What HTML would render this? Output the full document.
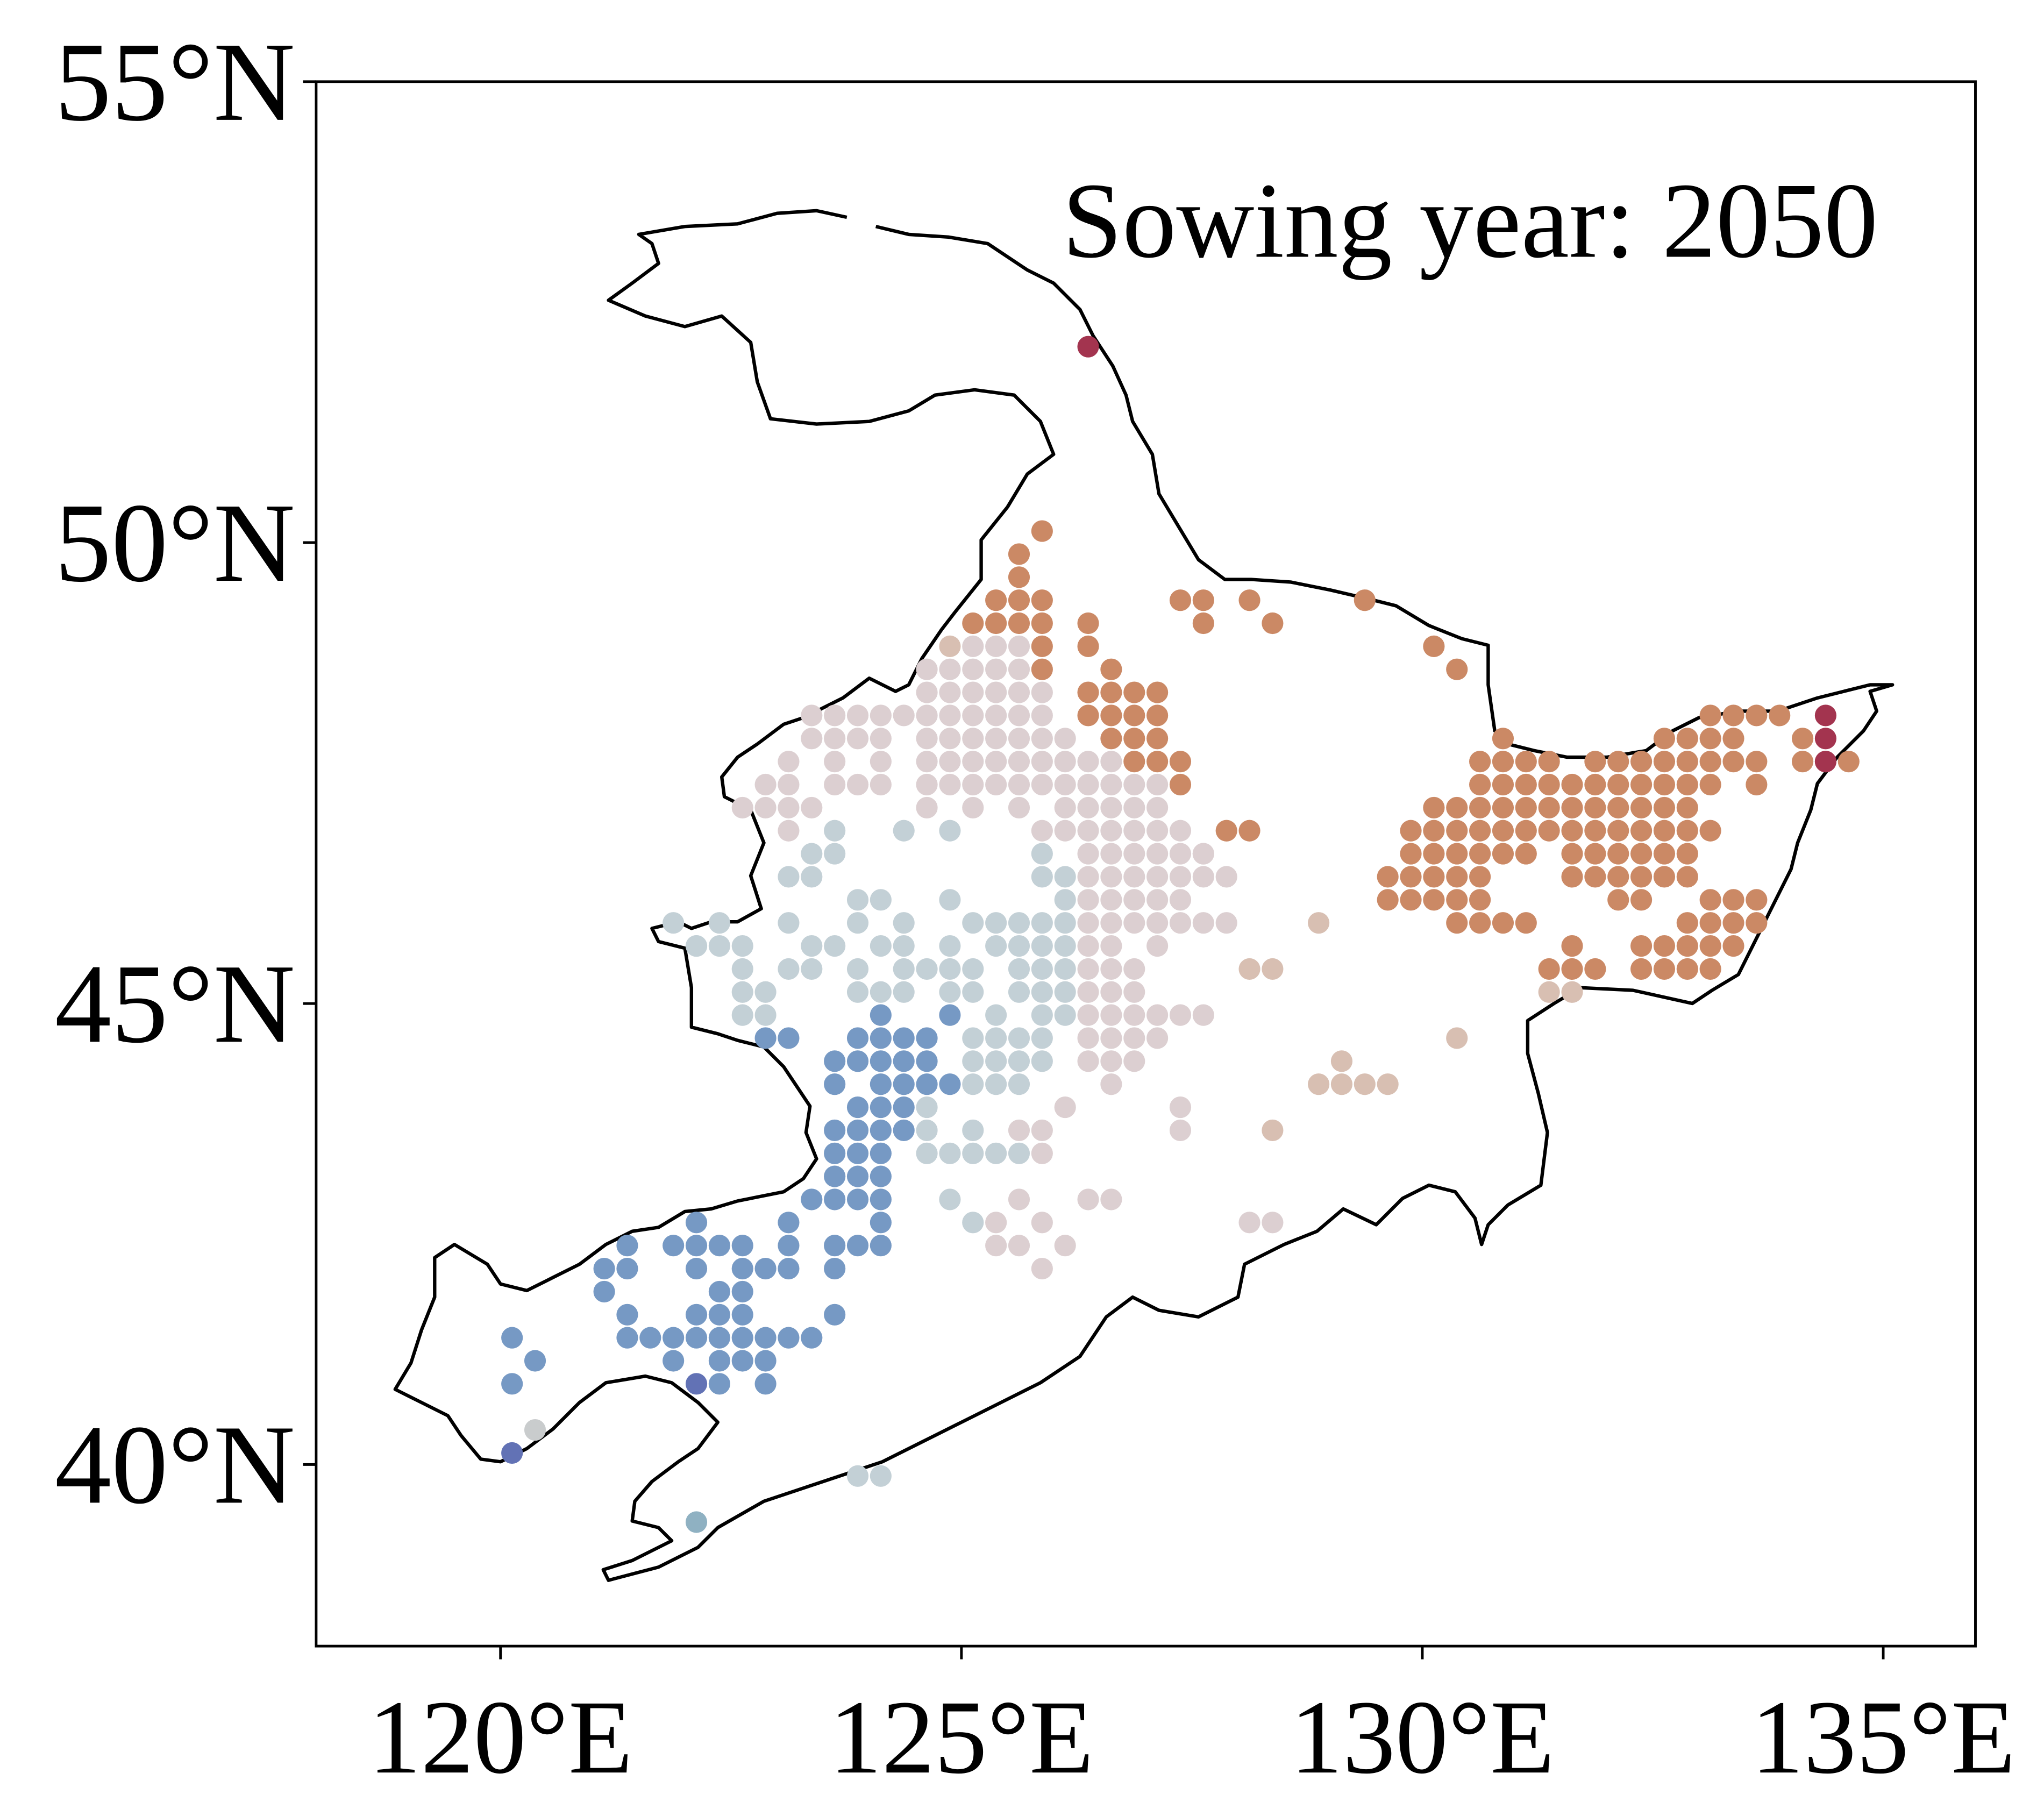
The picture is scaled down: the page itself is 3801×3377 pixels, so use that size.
<!DOCTYPE html>
<html><head><meta charset="utf-8">
<style>
html,body{margin:0;padding:0;background:#fff;}
svg{display:block;}
text{font-family:"Liberation Serif",serif;fill:#000;}
</style></head>
<body>
<svg id="chart" width="3801" height="3377" viewBox="0 0 1552 1379" xmlns="http://www.w3.org/2000/svg">
<rect width="1552" height="1379" fill="#fff"/>
<g id="outline"></g>
<g id="dots"></g>
<rect x="240" y="62" width="1260" height="1188" fill="none" stroke="#000" stroke-width="2"/>
<g id="axes"></g>
<text x="1426" y="195" text-anchor="end" font-size="82">Sowing year: 2050</text>
</svg>
<script>
// Axis ranges
const lonMin = 118, lonMax = 136, latMin = 38.03, latMax = 55;
const xTicks = [120, 125, 130, 135];
const xTickLabels = ["120°E", "125°E", "130°E", "135°E"];
const yTicks = [40, 45, 50, 55];
const yTickLabels = ["40°N", "45°N", "50°N", "55°N"];

// Dot rows: latitude, start lon, end lon (0.25° step), category
const segLat = [52.125,50.125,49.875,49.625,
49.375,49.375,49.375,49.375,
49.125,49.125,49.125,49.125,
48.875,48.875,48.875,48.875,48.875,
48.625,48.625,48.625,48.625,
48.375,48.375,
48.125,48.125,48.125,48.125,48.125,
47.875,47.875,47.875,47.875,47.875,47.875,47.875,
47.625,47.625,47.625,47.625,47.625,47.625,47.625,47.625,47.625,
47.375,47.375,47.375,47.375,47.375,47.375,
47.125,47.125,47.125,47.125,47.125,47.125,
46.875,46.875,46.875,46.875,46.875,46.875,46.875,46.875,
46.625,46.625,46.625,46.625,46.625,46.625,
46.375,46.375,46.375,46.375,46.375,46.375,
46.125,46.125,46.125,46.125,46.125,46.125,46.125,
45.875,45.875,45.875,45.875,45.875,45.875,45.875,45.875,45.875,45.875,45.875,
45.625,45.625,45.625,45.625,45.625,45.625,45.625,45.625,45.625,45.625,
45.375,45.375,45.375,45.375,45.375,45.375,45.375,45.375,45.375,
45.125,45.125,45.125,45.125,45.125,45.125,
44.875,44.875,44.875,44.875,44.875,44.875,
44.625,44.625,44.625,44.625,44.625,
44.375,44.375,44.375,44.375,44.375,
44.125,44.125,44.125,44.125,44.125,
43.875,43.875,43.875,43.875,
43.625,43.625,43.625,43.625,43.625,43.625,
43.375,43.375,43.375,
43.125,
42.875,42.875,42.875,42.875,
42.625,42.625,42.625,42.625,42.625,42.625,42.625,
42.375,42.375,42.375,42.375,42.375,42.375,
42.125,42.125,42.125,42.125,42.125,
41.875,41.875,
41.625,41.625,41.625,
41.375,41.375,
41.125,41.125,41.125,
40.875,40.875,40.875,40.875,
40.375,40.125,39.875,39.375];
const segLon0 = [126.375,125.875,125.625,125.625,
125.375,127.375,128.125,129.375,
125.125,126.375,127.625,128.375,
124.875,125.125,125.875,126.375,130.125,
124.625,125.875,126.625,130.375,
124.625,126.375,
123.375,124.625,126.375,133.125,134.375,
123.375,124.625,126.625,130.875,132.625,134.125,134.375,
123.125,123.625,124.125,124.625,126.875,130.625,131.875,134.125,134.375,
122.875,123.625,124.625,127.375,130.625,133.625,
122.625,124.625,125.125,125.625,126.125,130.125,
123.125,123.625,124.375,124.875,125.875,126.125,127.875,129.875,
123.375,125.875,126.375,127.625,129.875,131.625,
123.125,125.875,126.375,127.625,129.625,131.625,
123.875,124.875,126.125,126.375,129.625,132.125,133.125,
121.875,122.375,123.125,123.875,124.375,125.125,126.375,127.625,128.875,130.375,132.875,
122.125,123.375,124.125,124.875,125.375,126.375,127.125,131.625,132.375,122.125,
122.625,123.125,123.875,124.375,125.625,126.375,128.125,131.375,132.375,
122.625,123.875,124.875,125.625,126.375,131.375,
122.625,124.125,124.875,125.375,125.875,126.375,
122.875,123.875,125.125,126.375,130.375,
123.625,125.125,126.375,126.875,129.125,
123.625,124.125,125.125,126.625,128.875,
123.875,124.625,126.125,127.375,
123.625,124.625,125.125,125.625,127.375,128.375,
123.625,124.625,125.875,
123.625,
123.375,124.875,125.625,126.375,
122.125,123.125,124.125,125.125,125.375,125.875,128.125,
121.375,121.875,123.125,123.625,125.375,126.125,
121.125,122.125,122.625,123.625,125.875,
121.125,122.375,
121.375,122.125,123.625,
120.125,121.375,
120.375,121.875,122.375,
120.125,122.125,122.375,122.875,
120.375,120.125,123.875,122.125];
const segLon1 = [126.375,125.875,125.625,125.625,
125.875,127.625,128.125,129.375,
125.875,126.375,127.625,128.375,
124.875,125.625,125.875,126.375,130.125,
125.625,125.875,126.625,130.375,
125.875,127.125,
124.375,125.875,127.125,133.875,134.375,
124.125,126.125,127.125,130.875,133.375,134.125,134.375,
123.125,123.625,124.125,126.625,127.375,131.375,133.625,134.625,134.375,
123.125,124.125,127.125,127.375,133.125,133.625,
123.375,124.625,125.125,125.625,127.125,132.875,
123.125,123.625,124.375,124.875,125.875,127.375,128.125,133.125,
123.625,125.875,127.625,127.625,131.125,132.875,
123.375,126.125,127.375,127.875,130.625,132.875,
124.125,124.875,126.125,127.375,130.625,132.375,133.625,
121.875,122.375,123.125,123.875,124.375,126.125,127.375,127.875,128.875,131.125,133.625,
122.625,123.625,124.375,124.875,126.125,126.625,127.125,131.625,133.375,122.125,
122.625,123.375,123.875,125.125,126.125,126.875,128.375,131.875,133.125,
122.875,124.375,125.125,126.125,126.875,131.625,
122.875,124.125,124.875,125.375,126.125,127.625,
123.125,124.625,125.875,127.125,130.375,
124.625,125.875,126.625,126.875,129.125,
123.625,124.875,125.625,126.625,129.625,
124.375,124.625,126.125,127.375,
124.375,124.625,125.125,125.875,127.375,128.375,
124.125,125.625,125.875,
124.125,
124.125,124.875,125.625,126.625,
122.125,123.125,124.125,125.125,125.375,125.875,128.375,
121.375,122.625,123.125,124.125,125.625,126.125,
121.375,122.125,123.125,123.625,125.875,
121.125,122.625,
121.375,122.625,123.625,
120.125,123.375,
120.375,121.875,122.875,
120.125,122.125,122.375,122.875,
120.375,120.125,124.125,122.125];
const segCat = ["R","O","O","O",
"O","O","O","O",
"O","O","O","O",
"T","P","O","O","O",
"P","O","O","O",
"P","O",
"P","P","O","O","R",
"P","P","O","O","O","O","R",
"P","P","P","P","O","O","O","O","R",
"P","P","P","O","O","O",
"P","P","P","P","P","O",
"P","G","G","G","P","P","O","O",
"G","G","P","P","O","O",
"G","G","P","P","O","O",
"G","G","G","P","O","O","O",
"G","G","G","G","G","G","P","P","T","O","O",
"G","G","G","G","G","P","P","O","O","G",
"G","G","G","G","G","P","T","O","O",
"G","G","G","G","P","T",
"G","B","B","G","G","P",
"B","B","G","P","T",
"B","G","P","P","T",
"B","B","G","P","T",
"B","G","P","P",
"B","G","G","P","P","T",
"B","G","P",
"B",
"B","G","P","P",
"B","B","B","G","P","P","P",
"B","B","B","B","P","P",
"B","B","B","B","P",
"B","B",
"B","B","B",
"B","B",
"B","B","B",
"B","D","B","B",
"L","D","G","S"];
const catColor = {B:"#7699c4",G:"#c3d0d6",P:"#dccfd1",T:"#d8bfb2",O:"#cb8965",R:"#a3344f",D:"#6272b5",L:"#c9cccd",S:"#8fb1c2"};

const borderPath = "M643,165 L620,160 590,162 560,170 520,172 485,178 495,185 500,200 480,215 462,228 490,240 520,248 548,240 570,260 575,290 585,318 620,322 660,320 690,312 710,300 740,296 770,300 790,320 800,345 780,360 765,385 745,410 745,440 725,465 715,478 700,500 690,520 680,525 660,515 640,530 610,545 595,550 575,565 560,575 548,590 550,605 570,615 580,640 570,665 578,690 560,700 540,700 525,705 515,700 495,705 500,715 520,720 525,750 525,780 545,785 560,790 580,795 595,810 605,825 615,840 612,860 620,880 610,895 595,905 560,912 540,918 520,920 500,932 480,935 460,945 440,960 420,970 400,980 380,975 370,960 345,945 330,955 330,985 320,1010 312,1035 300,1055 320,1065 340,1075 350,1090 365,1108 380,1110 400,1100 420,1085 440,1065 460,1050 490,1045 510,1050 530,1065 545,1080 530,1100 515,1110 495,1125 482,1140 480,1155 500,1160 510,1170 480,1185 458,1192 462,1200 500,1190 530,1175 545,1160 580,1140 610,1130 640,1120 670,1110 700,1095 730,1080 760,1065 790,1050 820,1030 840,1000 860,985 880,995 910,1000 940,985 945,960 975,945 1000,935 1020,918 1045,930 1065,910 1085,900 1105,905 1120,925 1125,945 1130,930 1145,915 1170,900 1175,860 1168,830 1160,800 1160,775 1180,762 1200,750 1240,752 1285,762 1300,752 1320,740 1330,720 1340,700 1350,680 1360,660 1365,640 1375,615 1380,595 1395,575 1415,555 1425,540 1420,525 1437,520 1420,520 1400,525 1380,530 1350,540 1320,540 1290,545 1270,555 1250,570 1220,575 1190,575 1165,570 1145,565 1135,555 1130,520 1130,490 1110,485 1085,475 1060,460 1040,455 1010,448 980,442 950,440 930,440 910,425 895,400 880,375 875,345 860,320 855,300 845,278 830,255 820,235 800,215 780,205 750,185 720,180 690,178 665,172";

const NS = "http://www.w3.org/2000/svg";
const plotL = 240, plotR = 1500, plotT = 62, plotB = 1250;
function X(lon){ return plotL + (lon - lonMin) / (lonMax - lonMin) * (plotR - plotL); }
function Y(lat){ return plotB - (lat - latMin) / (latMax - latMin) * (plotB - plotT); }

const outline = document.getElementById('outline');
const bp = document.createElementNS(NS, 'path');
bp.setAttribute('d', borderPath);
bp.setAttribute('fill', 'none');
bp.setAttribute('stroke', '#000');
bp.setAttribute('stroke-width', '2.6');
bp.setAttribute('stroke-linejoin', 'round');


outline.appendChild(bp);

const dots = document.getElementById('dots');
for (let i = 0; i < segLat.length; i++) {
  for (let lon = segLon0[i]; lon <= segLon1[i] + 1e-6; lon += 0.25) {
    const c = document.createElementNS(NS, 'circle');
    c.setAttribute('cx', X(lon).toFixed(2));
    c.setAttribute('cy', Y(segLat[i]).toFixed(2));
    c.setAttribute('r', '8.2');
    c.setAttribute('fill', catColor[segCat[i]]);
    
    
    dots.appendChild(c);
  }
}

const axes = document.getElementById('axes');
xTicks.forEach((v, i) => {
  const x = X(v);
  const t = document.createElementNS(NS, 'line');
  t.setAttribute('x1', x); t.setAttribute('x2', x);
  t.setAttribute('y1', plotB); t.setAttribute('y2', plotB + 10);
  t.setAttribute('stroke', '#000'); t.setAttribute('stroke-width', '2');
  
  
  axes.appendChild(t);
  const l = document.createElementNS(NS, 'text');
  l.setAttribute('x', x); l.setAttribute('y', 1346);
  l.setAttribute('text-anchor', 'middle'); l.setAttribute('font-size', '80');
  l.textContent = xTickLabels[i];
  
  
  axes.appendChild(l);
});
yTicks.forEach((v, i) => {
  const y = Y(v);
  const t = document.createElementNS(NS, 'line');
  t.setAttribute('x1', plotL - 10); t.setAttribute('x2', plotL);
  t.setAttribute('y1', y); t.setAttribute('y2', y);
  t.setAttribute('stroke', '#000'); t.setAttribute('stroke-width', '2');
  
  
  axes.appendChild(t);
  const l = document.createElementNS(NS, 'text');
  l.setAttribute('x', 224); l.setAttribute('y', y + 29);
  l.setAttribute('text-anchor', 'end'); l.setAttribute('font-size', '86');
  l.textContent = yTickLabels[i];
  
  
  axes.appendChild(l);
});
</script>
</body></html>
